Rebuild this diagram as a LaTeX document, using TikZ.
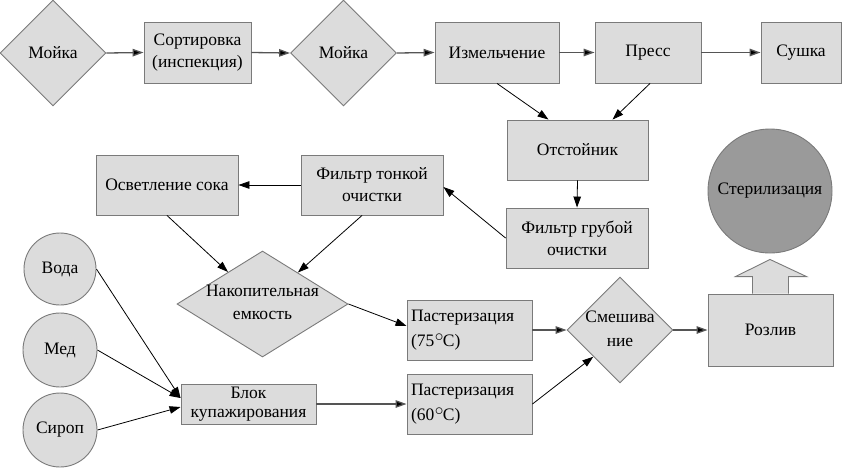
\documentclass[tikz,border=0pt]{standalone}
\usepackage{fontspec}
\setmainfont{Liberation Serif}
\usetikzlibrary{shapes.geometric,arrows.meta,calc}
\definecolor{boxfill}{HTML}{DCDCDC}
\definecolor{boxdraw}{HTML}{7A7A7A}
\definecolor{darkfill}{HTML}{9A9A9A}
\definecolor{linegray}{HTML}{555555}
\newcommand{\degC}{\kern0.5pt\raisebox{0.3em}{$\circ$}\kern-0.5pt C}
\begin{document}
\begin{tikzpicture}[x=1pt,y=-1pt,
  every node/.style={font=\fontsize{17.5}{22}\selectfont},
  box/.style={rectangle,draw=boxdraw,fill=boxfill,line width=0.9pt,inner sep=2pt,align=center},
  diam/.style={diamond,draw=boxdraw,fill=boxfill,line width=0.9pt,inner sep=0pt},
  circ/.style={circle,draw=boxdraw,fill=boxfill,line width=0.9pt,inner sep=0pt},
  harrow/.style={draw=linegray,line width=1.3pt,-{Triangle[length=11pt,width=7.5pt,fill=black]}},
  darrow/.style={draw=black,line width=0.8pt,-{Triangle[length=11pt,width=7.5pt]}},
]
\useasboundingbox (0,0) rectangle (842,467);
% top row
\node[diam,minimum width=106,minimum height=106,label={center:Мойка}] (m1) at (53,53) {};
\node[box,minimum width=107,minimum height=61] (sort) at (197.5,52.5) {Сортировка\\(инспекция)};
\node[diam,minimum width=106,minimum height=106,label={center:Мойка}] (m2) at (343.5,53) {};
\node[box,minimum width=124,minimum height=61] (izm) at (497,52.5) {Измельчение};
\node[box,minimum width=106,minimum height=61] (press) at (648,52.5) {Пресс};
\node[box,minimum width=80,minimum height=61] (sush) at (801,52.5) {Сушка};
% middle
\node[box,minimum width=141,minimum height=60] (otst) at (577.5,150) {Отстойник};
\node[box,minimum width=142,minimum height=60] (fgrub) at (577,238) {Фильтр грубой\\очистки};
\node[box,minimum width=142,minimum height=60] (ften) at (372,185) {Фильтр тонкой\\очистки};
\node[box,minimum width=142,minimum height=60] (osv) at (167,185) {Осветление сока};
\node[diam,minimum width=171,minimum height=106,label={center:{\begin{tabular}{@{}c@{}}Накопительная\\[1pt]емкость\end{tabular}}}] (nak) at (262.5,304) {};
\node[box,minimum width=125,minimum height=60,text width=117,align=left,inner sep=4pt,font=\fontsize{17.5}{25}\selectfont] (p75) at (469.5,330) {Пастеризация\\(75\degC)};
\node[box,minimum width=125,minimum height=60,text width=117,align=left,inner sep=4pt,font=\fontsize{17.5}{25}\selectfont] (p60) at (469.5,404) {Пастеризация\\(60\degC)};
\node[diam,minimum width=106,minimum height=106,label={center:{\begin{tabular}{@{}c@{}}Смешива\\[2pt]ние\end{tabular}}}] (mix) at (620,330) {};
\node[box,minimum width=125,minimum height=72] (roz) at (770.5,330) {Розлив};
\node[circ,fill=darkfill,minimum size=124] (ster) at (770,191) {Стерилизация};
% left circles
\node[circ,minimum size=72] (voda) at (60,269) {Вода};
\node[circ,minimum size=74] (med) at (60,350) {Мед};
\node[circ,minimum size=74] (sirop) at (60,430) {Сироп};
\node[box,minimum width=135,minimum height=40,inner sep=0pt,font=\fontsize{17.5}{19}\selectfont] (blok) at (248.5,404) {Блок\\купажирования};
% block arrow
\draw[draw=boxdraw,fill=boxfill,line width=0.9pt]
  ($(roz.north)+(-18,0)$) -- ++(0,-17) -- ++(-17,0) -- ($(ster.south)+(0,6)$)
  -- ($(roz.north)+(36,-17)$) -- ++(-18,0) -- ($(roz.north)+(18,0)$);
% connectors
\draw[harrow] (m1.east) -- (sort.west);
\draw[harrow] (sort.east) -- (m2.west);
\draw[harrow] (m2.east) -- (izm.west);
\draw[harrow] (izm.east) -- (press.west);
\draw[harrow] (press.east) -- (sush.west);
\draw[darrow] (izm.south) -- ([xshift=-29pt]otst.north);
\draw[darrow] ([xshift=2pt]press.south) -- ([xshift=35pt]otst.north);
\draw[darrow] (otst.south) -- (fgrub.north);
\draw[darrow] (fgrub.west) -- ([yshift=-2pt]ften.east);
\draw[darrow] (ften.west) -- (osv.east);
\draw[darrow] (osv.south) -- (nak);
\draw[darrow] ([xshift=-10pt]ften.south) -- (nak);
\draw[darrow] (nak.east) -- ([yshift=4pt]p75.west);
\draw[harrow] (p75.east) -- (mix.west);
\draw[darrow] (p60.east) -- ($(mix.west)!0.5!(mix.south)$);
\draw[harrow] (mix.east) -- (roz.west);
\draw[harrow] (blok.east) -- (p60.west);
\draw[darrow] (voda.east) -- ([yshift=6pt]blok.west);
\draw[darrow] (med.east) -- ([yshift=6pt]blok.west);
\draw[darrow] (sirop.east) -- ([yshift=-3pt]blok.west);
\end{tikzpicture}
\end{document}
